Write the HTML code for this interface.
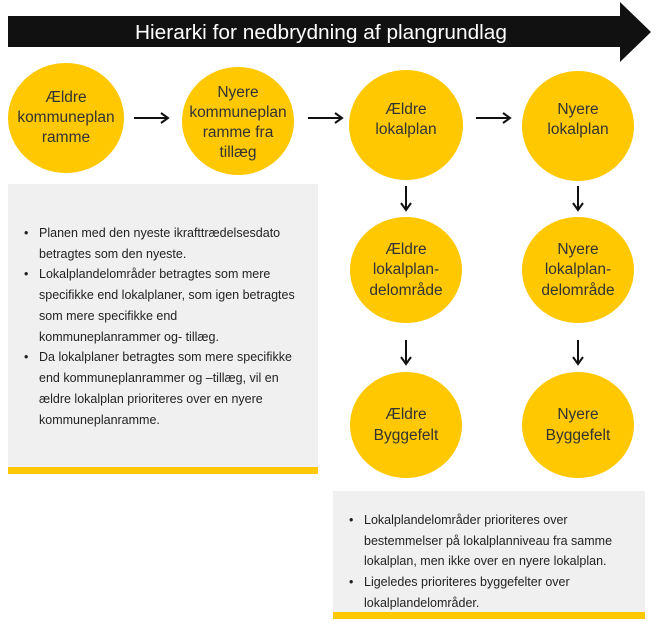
<!DOCTYPE html>
<html><head><meta charset="utf-8"><style>
body{margin:0;background:#fff;}
svg{display:block;}
</style></head><body>
<svg width="657" height="634" viewBox="0 0 657 634" xmlns="http://www.w3.org/2000/svg" font-family="Liberation Sans, sans-serif">
<polygon points="8,16 620,16 620,2 651,32 620,62 620,47 8,47" fill="#111"/>
<text x="321" y="39" fill="#fff" font-size="20.5" text-anchor="middle" textLength="372" lengthAdjust="spacingAndGlyphs">Hierarki for nedbrydning af plangrundlag</text>
<g fill="#FFC800">
<ellipse cx="66" cy="118" rx="58" ry="55"/>
<ellipse cx="238" cy="121" rx="56" ry="54"/>
<ellipse cx="406" cy="125" rx="57" ry="55"/>
<ellipse cx="578" cy="126" rx="56" ry="55"/>
<ellipse cx="406" cy="270" rx="56" ry="53"/>
<ellipse cx="578" cy="270" rx="56" ry="53"/>
<ellipse cx="406" cy="425" rx="56" ry="53"/>
<ellipse cx="578" cy="425" rx="56" ry="53"/>
</g>
<g fill="#333" font-size="15.5" text-anchor="middle">
<text x="66" y="102">Ældre</text><text x="66" y="122">kommuneplan</text><text x="66" y="142">ramme</text>
<text x="238" y="97">Nyere</text><text x="238" y="117">kommuneplan</text><text x="238" y="137">ramme fra</text><text x="238" y="157">tillæg</text>
<text x="406" y="114">Ældre</text><text x="406" y="134">lokalplan</text>
<text x="578" y="114">Nyere</text><text x="578" y="134">lokalplan</text>
<text x="406" y="254">Ældre</text><text x="406" y="274">lokalplan-</text><text x="406" y="295">delområde</text>
<text x="578" y="254">Nyere</text><text x="578" y="274">lokalplan-</text><text x="578" y="295">delområde</text>
<text x="406" y="419">Ældre</text><text x="406" y="440">Byggefelt</text>
<text x="578" y="419">Nyere</text><text x="578" y="440">Byggefelt</text>
</g>
<g stroke="#111" stroke-width="2" fill="none">
<path d="M134 118H168M161 113L168 118L161 123"/>
<path d="M308 118H342M335 113L342 118L335 123"/>
<path d="M476 118H510M503 113L510 118L503 123"/>
<path d="M406 186V210M401 203L406 210L411 203"/>
<path d="M578 186V210M573 203L578 210L583 203"/>
<path d="M406 340V364M401 357L406 364L411 357"/>
<path d="M578 340V364M573 357L578 364L583 357"/>
</g>
<rect x="8" y="184" width="310" height="290" fill="#F0F0F0"/>
<rect x="8" y="467" width="310" height="7" fill="#FFC800"/>
<rect x="333" y="491" width="312" height="128" fill="#F0F0F0"/>
<rect x="333" y="612" width="312" height="7" fill="#FFC800"/>
<g fill="#222" font-size="12.5">
<text x="24" y="237">•</text><text x="39" y="237">Planen med den nyeste ikrafttrædelsesdato</text>
<text x="39" y="258">betragtes som den nyeste.</text>
<text x="24" y="278">•</text><text x="39" y="278">Lokalplandelområder betragtes som mere</text>
<text x="39" y="299">specifikke end lokalplaner, som igen betragtes</text>
<text x="39" y="320">som mere specifikke end</text>
<text x="39" y="341">kommuneplanrammer og- tillæg.</text>
<text x="24" y="361">•</text><text x="39" y="361">Da lokalplaner betragtes som mere specifikke</text>
<text x="39" y="382">end kommuneplanrammer og –tillæg, vil en</text>
<text x="39" y="403">ældre lokalplan prioriteres over en nyere</text>
<text x="39" y="424">kommuneplanramme.</text>
<text x="349" y="524">•</text><text x="364" y="524">Lokalplandelområder prioriteres over</text>
<text x="364" y="545">bestemmelser på lokalplanniveau fra samme</text>
<text x="364" y="565">lokalplan, men ikke over en nyere lokalplan.</text>
<text x="349" y="586">•</text><text x="364" y="586">Ligeledes prioriteres byggefelter over</text>
<text x="364" y="607">lokalplandelområder.</text>
</g>
</svg>
</body></html>
